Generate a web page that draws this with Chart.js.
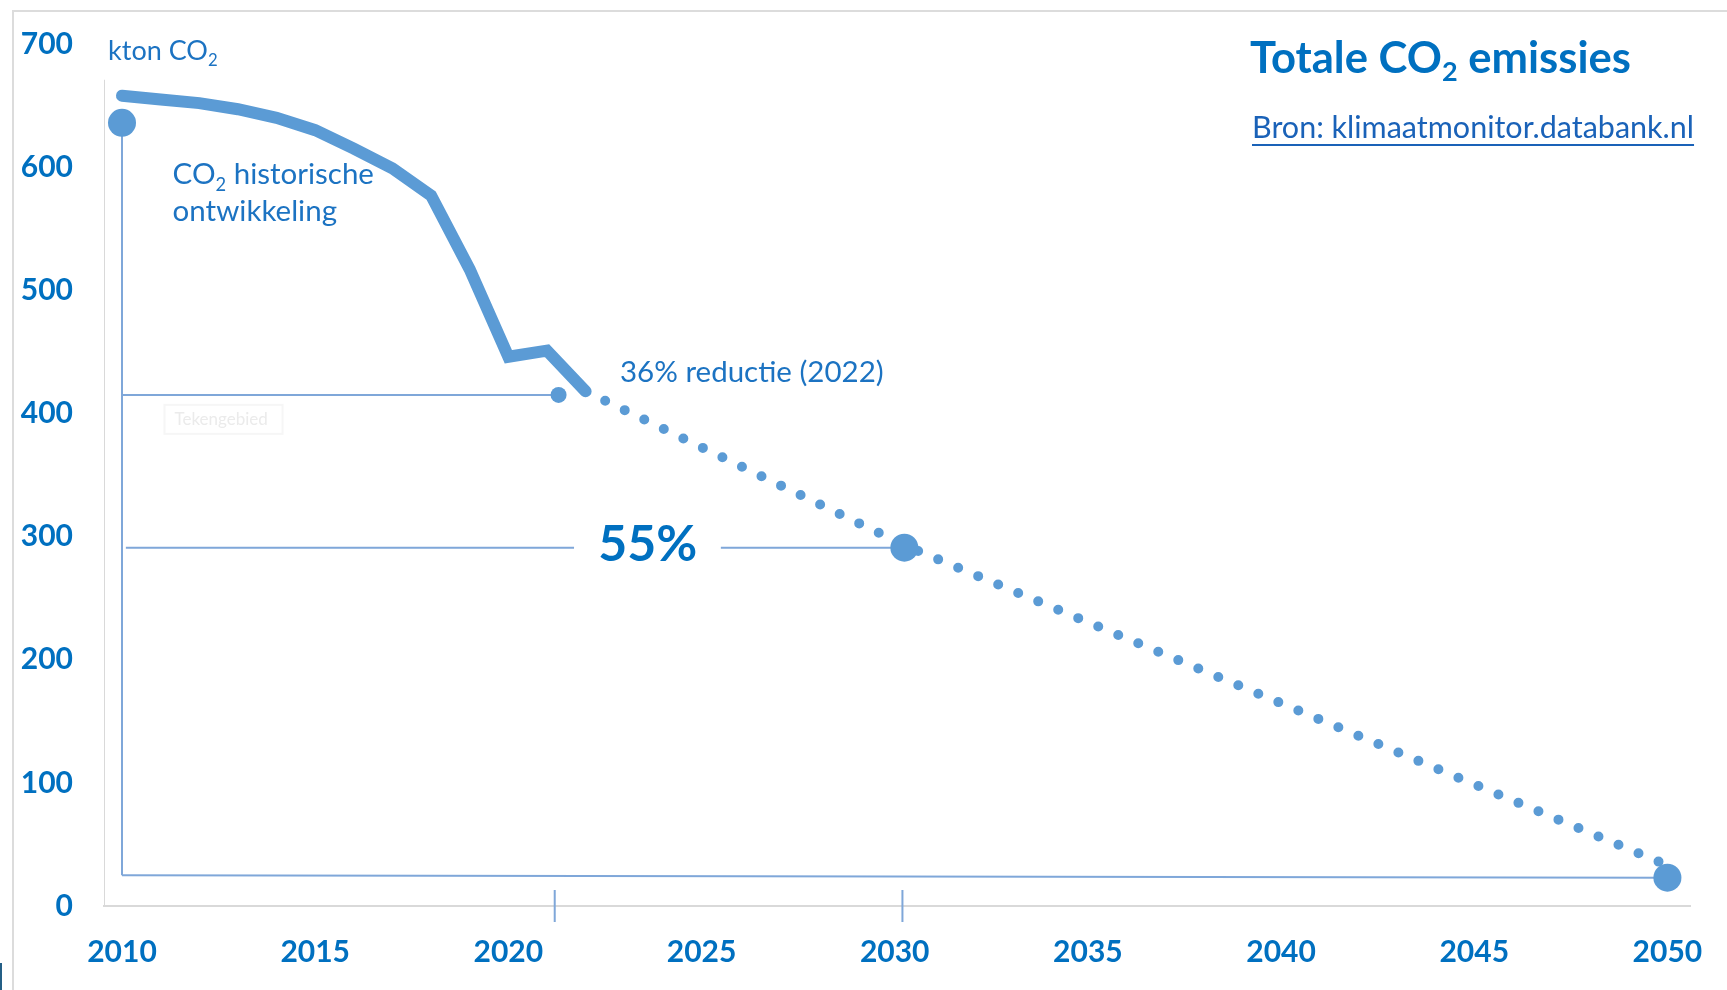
<!DOCTYPE html>
<html>
<head>
<meta charset="utf-8">
<title>Totale CO2 emissies</title>
<script src="https://cdn.jsdelivr.net/npm/chart.js@4.4.1/dist/chart.umd.min.js"></script>
<style>
  html, body { margin: 0; padding: 0; background: #fff; }
  body { width: 1727px; height: 990px; position: relative; overflow: hidden; font-family: Lato, "Open Sans", sans-serif; }
  .frame { position: absolute; left: 12px; top: 10px; right: -4px; bottom: -4px;
           border-top: 2px solid #dcdcdc; border-left: 2px solid #dcdcdc; }
  .chart-box { position: absolute; left: 0; top: 0; width: 1727px; height: 990px; }
  .title { position: absolute; left: 1250px; top: 30px; margin: 0; white-space: nowrap;
           font: 700 43.6px/1.2 Lato, sans-serif; color: #0070C0; }
  .source { position: absolute; left: 1252px; top: 108px; white-space: nowrap;
            font: 400 30.5px/1.2 Lato, sans-serif; color: #1a62b8;
            text-decoration: underline; text-decoration-thickness: 2px; text-underline-offset: 6px; }
  sub { font-size: 0.62em; vertical-align: -0.28em; line-height: 0; }
  .edge { position: absolute; left: 0; top: 963px; width: 2px; height: 27px; background: #245f86; }
</style>
</head>
<body>
<div class="frame"></div>
<div class="chart-box"><canvas id="co2"></canvas></div>
<h1 class="title">Totale CO<sub>2</sub> emissies</h1>
<a class="source">Bron: klimaatmonitor.databank.nl</a>
<div class="edge"></div>

<script>
// gemeten uitstoot, kton CO2
const histYears  = [2010, 2011, 2012, 2013, 2014, 2015, 2016, 2017, 2018, 2019, 2020, 2021, 2022];
const histValues = [658, 655, 652, 647, 640, 630, 615, 599, 577, 517, 446, 451, 418];

// reductiepad naar 2050
const pathYears  = [2022, 2030.25, 2050];
const pathValues = [418, 293, 33];

// markeringen
const bigDotYears    = [2010, 2030.25, 2050];
const bigDotValues   = [636, 291, 23];
const smallDotYears  = [2021.3];
const smallDotValues = [415];

// hulplijnen [jaar, waarde]
const guide2010 = [[2010, 636], [2010, 25]];
const guideBase = [[2010, 25], [2050, 23]];
const guide36   = [[2010, 415], [2021.3, 415]];
const guide55   = [[2010.1, 291], [2021.7, 291], [2023.6, null], [2025.5, 291], [2030.25, 291]];
const tick2021  = [[2021.2, 13], [2021.2, -13]];
const tick2030  = [[2030.2, 13], [2030.2, -13]];
const yAxisLine = [[2009.534, 0], [2009.534, 671]];

const xTicks = [2010, 2015, 2020, 2025, 2030, 2035, 2040, 2045, 2050];
const yTicks = [0, 100, 200, 300, 400, 500, 600, 700];

const BLUE = '#5B9BD5';
const GUIDE = '#7fa7d9';
const LABEL = '#0070C0';
const NOTE = '#1c73c2';

const pts = (xs, ys) => xs.map((x, i) => ({ x: x, y: ys[i] }));
const pairs = (arr) => arr.map(p => ({ x: p[0], y: p[1] }));

// losse teksten in de grafiek, verankerd op as-waarden
const notes = [
  { parts: ['kton CO', '_2'], x: 2009.64, y: 687.4, size: 27, weight: 400, color: NOTE },
  { parts: ['CO', '_2', ' historische'], x: 2011.31, y: 586, size: 29.5, weight: 400, color: NOTE },
  { parts: ['ontwikkeling'], x: 2011.31, y: 556, size: 29.5, weight: 400, color: NOTE },
  { parts: ['36% reductie (2022)'], x: 2022.89, y: 425.4, size: 29.5, weight: 400, color: NOTE },
  { parts: ['55%'], x: 2023.61, y: 280, size: 50, weight: 700, color: LABEL, align: 'center' }
];

function drawRich(ctx, note, px, py) {
  const measure = (p) => {
    const sub = p.startsWith('_');
    ctx.font = note.weight + ' ' + (sub ? note.size * 0.62 : note.size) + 'px Lato';
    return ctx.measureText(sub ? p.slice(1) : p).width;
  };
  let total = 0;
  note.parts.forEach(p => { total += measure(p); });
  let cx = note.align === 'center' ? px - total / 2 : px;
  ctx.fillStyle = note.color;
  ctx.textAlign = 'left';
  ctx.textBaseline = 'alphabetic';
  note.parts.forEach(p => {
    const sub = p.startsWith('_');
    const w = measure(p);
    ctx.fillText(sub ? p.slice(1) : p, cx, py + (sub ? note.size * 0.24 : 0));
    cx += w;
  });
}

const notesPlugin = {
  id: 'notes',
  afterDatasetsDraw(chart) {
    const { ctx, scales: { x, y } } = chart;
    ctx.save();
    notes.forEach(n => drawRich(ctx, n, x.getPixelForValue(n.x), y.getPixelForValue(n.y)));

    // vage "Tekengebied" hint
    const hx = x.getPixelForValue(2011.1), hy = y.getPixelForValue(407);
    ctx.strokeStyle = '#f6f6f6';
    ctx.lineWidth = 2;
    ctx.strokeRect(hx, hy, 118, 29);
    ctx.font = '400 17px Lato';
    ctx.fillStyle = '#ebebeb';
    ctx.fillText('Tekengebied', hx + 10, hy + 20);
    ctx.restore();
  }
};

const thin = (data, extra) => Object.assign({
  data: data, borderColor: GUIDE, borderWidth: 2, pointRadius: 0, fill: false
}, extra || {});

new Chart(document.getElementById('co2'), {
  type: 'line',
  data: {
    datasets: [
      { data: pts(bigDotYears, bigDotValues), showLine: false, pointRadius: 14,
        pointBackgroundColor: BLUE, pointBorderWidth: 0 },
      { data: pts(smallDotYears, smallDotValues), showLine: false, pointRadius: 8,
        pointBackgroundColor: BLUE, pointBorderWidth: 0 },
      { data: pts(histYears, histValues), borderColor: BLUE, borderWidth: 12,
        borderCapStyle: 'round', borderJoinStyle: 'miter', pointRadius: 0 },
      { data: pts(pathYears, pathValues), borderColor: BLUE, borderWidth: 10,
        borderDash: [0, 21.7], borderCapStyle: 'round', pointRadius: 0 },
      thin(pairs(guide2010)),
      thin(pairs(guideBase)),
      thin(pairs(guide36)),
      thin(pairs(guide55), { spanGaps: false }),
      thin(pairs(tick2021), { clip: false }),
      thin(pairs(tick2030), { clip: false }),
      thin(pairs(yAxisLine), { borderColor: '#d9d9d9' })
    ]
  },
  options: {
    responsive: true,
    maintainAspectRatio: false,
    animation: false,
    events: [],
    layout: { padding: { top: 44, right: 36.4, left: 0, bottom: 0 } },
    plugins: { legend: { display: false }, tooltip: { enabled: false }, title: { display: false } },
    scales: {
      x: {
        type: 'linear',
        min: 2009.534,
        max: 2050.6,
        afterBuildTicks: (s) => { s.ticks = xTicks.map(v => ({ value: v })); },
        // vaste hoogte; randruimte komt uit layout.padding
        afterFit: (s) => { s.height = 84; s.paddingLeft = 0; s.paddingRight = 0; },
        grid: { display: false, drawTicks: false },
        border: { display: true, color: '#d9d9d9', width: 2 },
        ticks: {
          padding: 28,
          color: LABEL,
          font: { family: 'Lato', size: 30, weight: 'bold' },
          callback: (v) => String(v)
        }
      },
      y: {
        min: 0,
        max: 700,
        afterBuildTicks: (s) => { s.ticks = yTicks.map(v => ({ value: v })); },
        afterFit: (s) => { s.width = 104; s.paddingTop = 0; s.paddingBottom = 0; },
        grid: { display: false, drawTicks: false },
        border: { display: false },
        ticks: {
          padding: 31,
          color: LABEL,
          font: { family: 'Lato', size: 30, weight: 'bold' },
          callback: (v) => String(v)
        }
      }
    }
  },
  plugins: [notesPlugin]
});
</script>
</body>
</html>
